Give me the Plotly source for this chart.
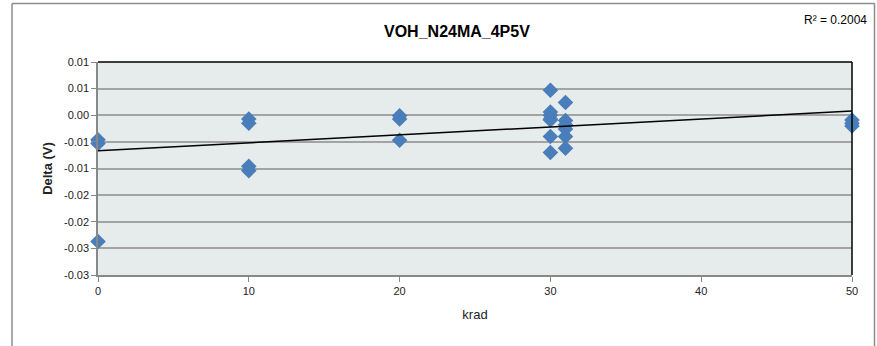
import plotly.graph_objects as go

# ---- data ----
krad = [0, 0, 0,
        10, 10, 10, 10,
        20, 20, 20,
        30, 30, 30, 30, 30, 30, 30,
        31, 31, 31, 31, 31, 31,
        50, 50, 50]
delta_v = [-0.0046, -0.0053, -0.0237,
           -0.0007, -0.0015, -0.0096, -0.0104,
           -0.0001, -0.0007, -0.0047,
           0.0047, 0.0006, 0.0000, -0.0007, -0.0009, -0.0040, -0.0070,
           0.0024, -0.0010, -0.0018, -0.0026, -0.0040, -0.0062,
           -0.0009, -0.0015, -0.0020]
trend_intercept = -0.00666
trend_slope = 0.000149
trend_x = [0, 50]
r2_text = "R² = 0.2004"
title_text = "VOH_N24MA_4P5V"
y_tickvals = [-0.03, -0.025, -0.02, -0.015, -0.01, -0.005, 0.0, 0.005, 0.01]
y_ticktext = ["-0.03", "-0.03", "-0.02", "-0.02", "-0.01", "-0.01", "0.00", "0.01", "0.01"]
x_tickvals = [0, 10, 20, 30, 40, 50]

FONT = "Liberation Sans"

fig = go.Figure()
fig.add_trace(go.Scatter(
    x=krad, y=delta_v, mode="markers",
    marker=dict(symbol="diamond", size=12, color="#4a7ebb",
                line=dict(width=0)),
    showlegend=False, cliponaxis=False))
fig.add_trace(go.Scatter(
    x=trend_x, y=[trend_intercept + trend_slope * v for v in trend_x],
    mode="lines", line=dict(color="black", width=1.5),
    showlegend=False))

L, R, T, B = 98, 25, 62, 71
W, H = 877, 346
pw, ph = W - L - R, H - T - B

def px2paper_x(px):
    return (px - L) / pw

def px2paper_y(py):
    return (H - B - py) / ph

border = dict(color="#8c8c8c", width=1.5)
fig.update_layout(
    width=W, height=H, autosize=False,
    margin=dict(l=L, r=R, t=T, b=B),
    paper_bgcolor="white", plot_bgcolor="#e6ebeb",
    font=dict(family=FONT, size=11, color="#222"),
    xaxis=dict(range=[0, 50], tickvals=x_tickvals, showgrid=False,
               zeroline=False, showline=True, linecolor="#888", linewidth=1.5,
               ticks="outside", ticklen=5, tickcolor="#888",
               mirror=False, title=dict(text="krad", font=dict(size=13), standoff=14)),
    yaxis=dict(range=[-0.03, 0.01], tickvals=y_tickvals, ticktext=y_ticktext,
               showgrid=True, gridcolor="#a3a3a3", gridwidth=1.5,
               zeroline=False, showline=True, linecolor="#888", linewidth=1.5,
               ticks="outside", ticklen=5, tickcolor="#888",
               title=dict(text="<b>Delta (V)</b>", font=dict(size=13), standoff=8)),
    shapes=[
        # black top and right border of plot area
        dict(type="line", xref="paper", yref="paper", x0=0, x1=1, y0=1, y1=1,
             line=dict(color="black", width=1.5)),
        dict(type="line", xref="paper", yref="paper", x0=1, x1=1, y0=0, y1=1,
             line=dict(color="black", width=1.5)),
        # outer chart border
        dict(type="line", xref="paper", yref="paper",
             x0=px2paper_x(12), x1=px2paper_x(874.5), y0=px2paper_y(3.5), y1=px2paper_y(3.5),
             line=border),
        dict(type="line", xref="paper", yref="paper",
             x0=px2paper_x(12), x1=px2paper_x(12), y0=px2paper_y(3.5), y1=px2paper_y(346),
             line=border),
        dict(type="line", xref="paper", yref="paper",
             x0=px2paper_x(874.5), x1=px2paper_x(874.5), y0=px2paper_y(3.5), y1=px2paper_y(346),
             line=border),
    ],
    annotations=[
        dict(text="<b>" + title_text + "</b>", xref="paper", yref="paper",
             x=px2paper_x(457), y=px2paper_y(32), xanchor="center", yanchor="middle",
             showarrow=False, font=dict(size=16, color="black")),
        dict(text=r2_text, xref="paper", yref="paper",
             x=px2paper_x(869), y=px2paper_y(20), xanchor="right", yanchor="middle",
             showarrow=False, font=dict(size=12, color="black")),
    ],
)

fig.write_html("out.html", config={"displayModeBar": False},
               post_script="document.body.style.margin='0';document.body.style.overflow='hidden';")
